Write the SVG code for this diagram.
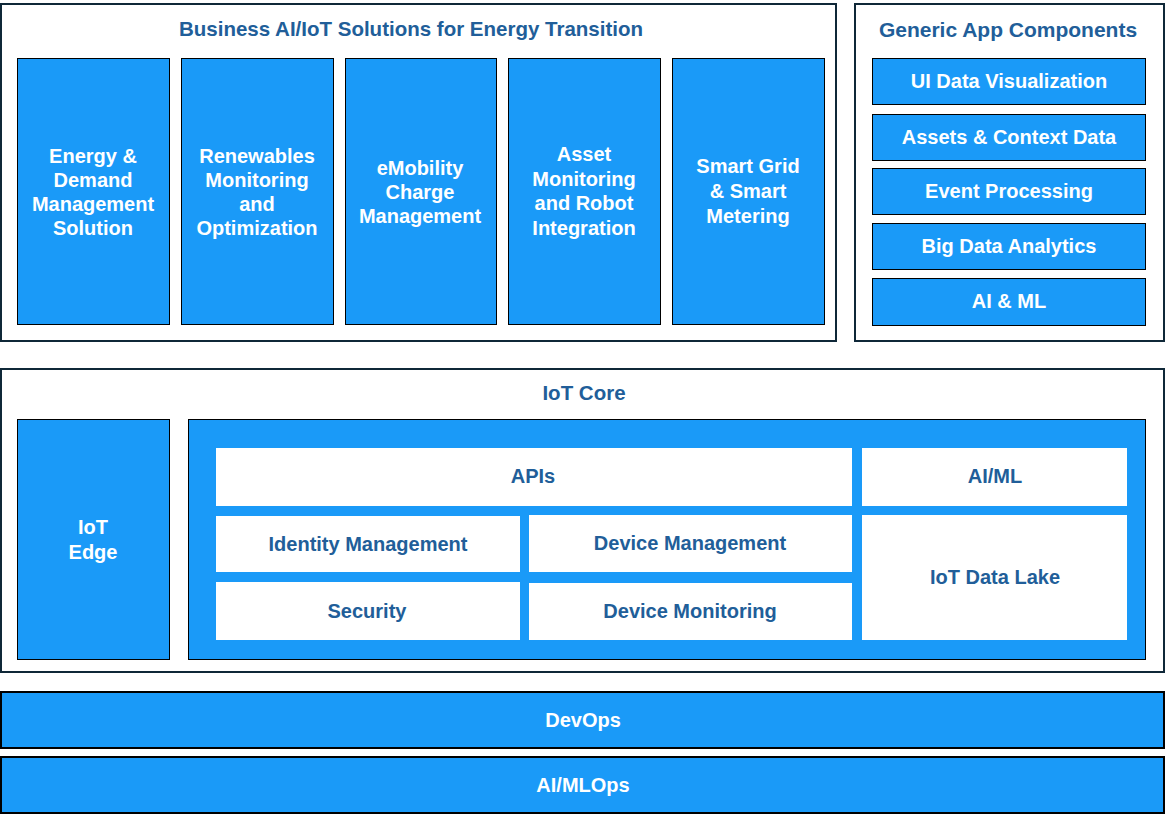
<svg xmlns="http://www.w3.org/2000/svg" width="1166" height="814" viewBox="0 0 1166 814">
<style>
.frame{fill:#ffffff;stroke:#0f2838;stroke-width:2}
.blue{fill:#1a9af8;stroke:#000000;stroke-width:1}
.bar{fill:#1a9af8;stroke:#000000;stroke-width:2}
.white{fill:#ffffff}
text{font-family:"Liberation Sans",Arial,sans-serif;font-weight:bold;text-anchor:middle;dominant-baseline:central}
.title{fill:#215e99;font-size:20.5px}
.wt{fill:#ffffff;font-size:20px}
.dt{fill:#215e99;font-size:20px}
</style>
<rect width="1166" height="814" fill="#ffffff"/>

<g id="business">
<rect class="frame" x="1" y="4" width="835" height="337"/>
<text class="title" x="411" y="28">Business AI/IoT Solutions for Energy Transition</text>
</g>
<g id="energy-demand">
<rect class="blue" x="17.5" y="58.5" width="152" height="266"/>
<text class="wt" x="93" y="156">Energy &amp;</text>
<text class="wt" x="93" y="180">Demand</text>
<text class="wt" x="93" y="204">Management</text>
<text class="wt" x="93" y="228">Solution</text>
</g>
<g id="renewables">
<rect class="blue" x="181.5" y="58.5" width="152" height="266"/>
<text class="wt" x="257" y="156">Renewables</text>
<text class="wt" x="257" y="180">Monitoring</text>
<text class="wt" x="257" y="204">and</text>
<text class="wt" x="257" y="228">Optimization</text>
</g>
<g id="emobility">
<rect class="blue" x="345.5" y="58.5" width="151" height="266"/>
<text class="wt" x="420" y="168">eMobility</text>
<text class="wt" x="420" y="192">Charge</text>
<text class="wt" x="420" y="216">Management</text>
</g>
<g id="asset-monitoring">
<rect class="blue" x="508.5" y="58.5" width="152" height="266"/>
<text class="wt" x="584" y="154">Asset</text>
<text class="wt" x="584" y="178.5">Monitoring</text>
<text class="wt" x="584" y="203">and Robot</text>
<text class="wt" x="584" y="228">Integration</text>
</g>
<g id="smart-grid">
<rect class="blue" x="672.5" y="58.5" width="152" height="266"/>
<text class="wt" x="748" y="166">Smart Grid</text>
<text class="wt" x="748" y="191">&amp; Smart</text>
<text class="wt" x="748" y="216">Metering</text>
</g>

<g id="generic">
<rect class="frame" x="855" y="4" width="309" height="337"/>
<text class="title" x="1008" y="29" style="font-size:21px">Generic App Components</text>
</g>
<g id="ui-data-vis">
<rect class="blue" x="872.5" y="58.5" width="273" height="46"/>
<text class="wt" x="1009" y="81">UI Data Visualization</text>
</g>
<g id="assets-context">
<rect class="blue" x="872.5" y="114.5" width="273" height="46"/>
<text class="wt" x="1009" y="137">Assets &amp; Context Data</text>
</g>
<g id="event-processing">
<rect class="blue" x="872.5" y="168.5" width="273" height="46"/>
<text class="wt" x="1009" y="191">Event Processing</text>
</g>
<g id="big-data">
<rect class="blue" x="872.5" y="223.5" width="273" height="46"/>
<text class="wt" x="1009" y="246">Big Data Analytics</text>
</g>
<g id="ai-ml-generic">
<rect class="blue" x="872.5" y="278.5" width="273" height="47"/>
<text class="wt" x="1009" y="301">AI &amp; ML</text>
</g>

<g id="iot-core">
<rect class="frame" x="1" y="369" width="1163" height="303"/>
<text class="title" x="584" y="392">IoT Core</text>
</g>
<g id="iot-edge">
<rect class="blue" x="17.5" y="419.5" width="152" height="240"/>
<text class="wt" x="93" y="527">IoT</text>
<text class="wt" x="93" y="552">Edge</text>
</g>
<g id="core-panel">
<rect class="blue" x="188.5" y="419.5" width="957" height="240"/>
</g>
<g id="apis">
<rect class="white" x="216" y="448" width="636" height="58"/>
<text class="dt" x="533" y="476">APIs</text>
</g>
<g id="ai-ml-core">
<rect class="white" x="862" y="448" width="265" height="58"/>
<text class="dt" x="995" y="476">AI/ML</text>
</g>
<g id="identity">
<rect class="white" x="216" y="516" width="304" height="56"/>
<text class="dt" x="368" y="544">Identity Management</text>
</g>
<g id="device-management">
<rect class="white" x="529" y="515" width="323" height="57"/>
<text class="dt" x="690" y="543">Device Management</text>
</g>
<g id="security">
<rect class="white" x="216" y="582" width="304" height="58"/>
<text class="dt" x="367" y="611">Security</text>
</g>
<g id="device-monitoring">
<rect class="white" x="529" y="583" width="323" height="57"/>
<text class="dt" x="690" y="611">Device Monitoring</text>
</g>
<g id="data-lake">
<rect class="white" x="862" y="515" width="265" height="125"/>
<text class="dt" x="995" y="577">IoT Data Lake</text>
</g>

<g id="devops">
<rect class="bar" x="1" y="692" width="1163" height="56"/>
<text class="wt" x="583" y="720">DevOps</text>
</g>
<g id="aimlops">
<rect class="bar" x="1" y="757" width="1163" height="56"/>
<text class="wt" x="583" y="785">AI/MLOps</text>
</g>

<g id="connectors"></g>
</svg>
